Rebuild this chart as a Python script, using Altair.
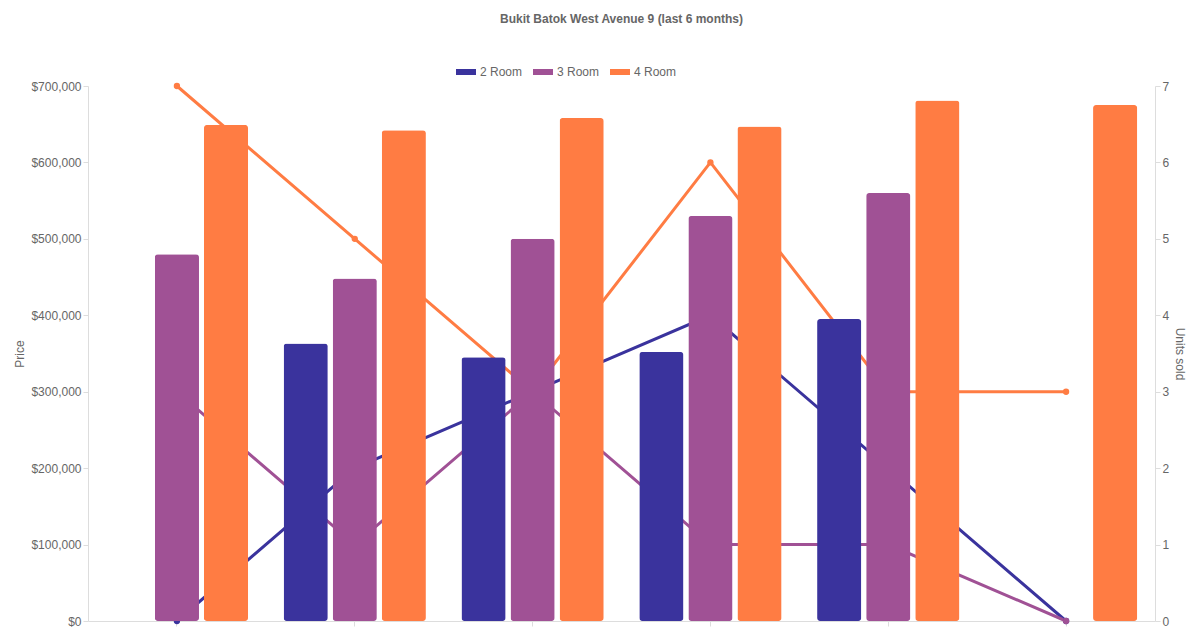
import pandas as pd
import altair as alt

months = ["Oct 2024", "Nov 2024", "Dec 2024", "Jan 2025", "Feb 2025", "Mar 2025"]
types = ["2 Room", "3 Room", "4 Room"]
colors = ["#3a339d", "#a05195", "#ff7c43"]

price_2 = [None, 363000, 345000, 352000, 395000, None]
price_3 = [480000, 448000, 500000, 530000, 560000, None]
price_4 = [649000, 642000, 658000, 647000, 681000, 675000]

units_2 = [0, 2, 3, 4, 2, 0]
units_3 = [3, 1, 3, 1, 1, 0]
units_4 = [7, 5, 3, 6, 3, 3]

rows_p, rows_u = [], []
for t, p, u in zip(types, [price_2, price_3, price_4], [units_2, units_3, units_4]):
    for m, pv, uv in zip(months, p, u):
        if pv is not None:
            rows_p.append({"month": m, "type": t, "price": pv})
        rows_u.append({"month": m, "type": t, "units": uv})
df_p = pd.DataFrame(rows_p)
df_u = pd.DataFrame(rows_u)

font = "Liberation Sans"
x = alt.X("month:N", sort=months, title=None,
          scale=alt.Scale(paddingInner=0.2, paddingOuter=0.1),
          axis=alt.Axis(labelAngle=0, ticks=True, tickColor="#ddd", domainColor="#ddd",
                        labelColor="#666", labelFontSize=12, labelPadding=6))
color_scale = alt.Scale(domain=types, range=colors)

lines = alt.Chart(df_u).mark_line(strokeWidth=3, point=alt.OverlayMarkDef(size=40, filled=True)).encode(
    x=x,
    y=alt.Y("units:Q", title="Units sold", scale=alt.Scale(domain=[0, 7]),
            axis=alt.Axis(orient="right", grid=False, tickCount=7, labelColor="#666",
                          titleColor="#666", titleFontWeight="normal", titleFontSize=12,
                          domainColor="#ddd", tickColor="#ddd", labelFontSize=12)),
    color=alt.Color("type:N", scale=color_scale, legend=None),
    detail="type:N",
)

bars = alt.Chart(df_p).mark_bar(cornerRadius=3).encode(
    x=x,
    xOffset=alt.XOffset("type:N", sort=types, scale=alt.Scale(domain=types, paddingInner=0.1)),
    y=alt.Y("price:Q", title="Price", scale=alt.Scale(domain=[0, 700000]),
            axis=alt.Axis(format="$,.0f", tickCount=7, gridColor="#e5e5e5", labelColor="#666",
                          titleColor="#666", titleFontWeight="normal", titleFontSize=12,
                          domainColor="#ddd", tickColor="#ddd", labelFontSize=12)),
    color=alt.Color("type:N", scale=color_scale, title=None,
                    legend=alt.Legend(orient="none", legendX=368, legendY=-24, direction="horizontal",
                                      symbolType="M-1,-0.3H1V0.3H-1Z", symbolSize=400,
                                      labelColor="#666", labelFontSize=12, columnPadding=10,
                                      symbolStrokeWidth=0)),
)

chart = alt.layer(lines, bars).resolve_scale(y="independent").resolve_legend(color="independent").properties(
    width=1067, height=535,
    title=alt.TitleParams("Bukit Batok West Avenue 9 (last 6 months)", fontSize=12,
                          color="#666", font=font, fontWeight="bold", offset=36),
).configure(font=font).configure_view(stroke=None)

chart.save("out.html", embed_options={"renderer": "svg", "actions": False})
